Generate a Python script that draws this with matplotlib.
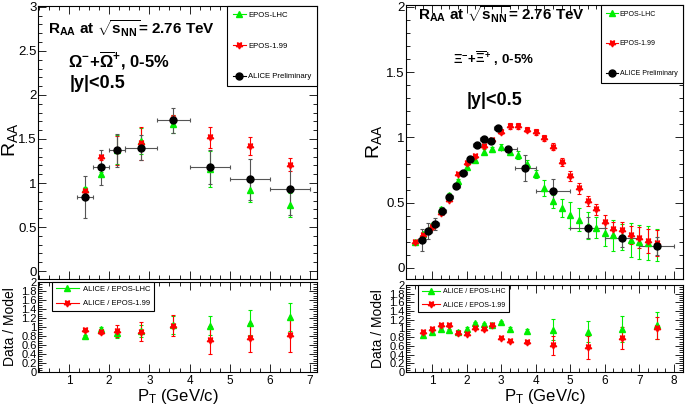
import numpy as np
import matplotlib
matplotlib.use('Agg')
import matplotlib.pyplot as plt
from matplotlib.lines import Line2D
from matplotlib.ticker import MultipleLocator, FormatStrFormatter

plt.rcParams['font.family'] = ['Liberation Sans', 'DejaVu Sans']
plt.rcParams['mathtext.fontset'] = 'custom'
plt.rcParams['mathtext.rm'] = 'Liberation Sans'
plt.rcParams['mathtext.bf'] = 'Liberation Sans:bold'
plt.rcParams['mathtext.it'] = 'Liberation Sans:italic'

# ---- Omega (left) ----
om_x = [1.4, 1.8, 2.2, 2.8, 3.6, 4.5, 5.5, 6.5]
om_xlo = [1.2, 1.6, 2.0, 2.4, 3.2, 4.0, 5.0, 6.0]
om_xhi = [1.6, 2.0, 2.4, 3.2, 4.0, 5.0, 6.0, 7.0]
om_alice = [0.84, 1.18, 1.37, 1.40, 1.71, 1.18, 1.04, 0.93]
om_alice_err = [0.24, 0.20, 0.19, 0.14, 0.14, 0.19, 0.23, 0.29]
om_lhc = [0.93, 1.10, 1.38, 1.48, 1.67, 1.16, 0.92, 0.75]
om_lhc_err = [0.03, 0.03, 0.16, 0.15, 0.10, 0.20, 0.13, 0.14]
om_199 = [0.91, 1.29, 1.37, 1.45, 1.73, 1.52, 1.42, 1.21]
om_199_err = [0.03, 0.03, 0.16, 0.19, 0.04, 0.12, 0.10, 0.07]

om_r_lhc = [0.80, 0.955, 0.86, 0.91, 1.045, 1.03, 1.10, 1.23]
om_r_lhc_err = [0.03, 0.04, 0.10, 0.13, 0.19, 0.21, 0.28, 0.31]
om_r_199 = [0.93, 0.88, 0.91, 0.90, 1.03, 0.71, 0.76, 0.82]
om_r_199_err = [0.04, 0.04, 0.14, 0.22, 0.23, 0.32, 0.32, 0.37]

# ---- Xi (right) ----
xi_x = [0.7, 0.9, 1.1, 1.3, 1.5, 1.7, 1.9, 2.1, 2.3, 2.5, 2.7, 2.9,
        3.2, 3.7, 4.5, 5.5, 6.5, 7.5]
xi_xlo = [0.6, 0.8, 1.0, 1.2, 1.4, 1.6, 1.8, 2.0, 2.2, 2.4, 2.6, 2.8,
          3.0, 3.4, 4.0, 5.0, 6.0, 7.0]
xi_xhi = [0.8, 1.0, 1.2, 1.4, 1.6, 1.8, 2.0, 2.2, 2.4, 2.6, 2.8, 3.0,
          3.45, 4.0, 5.0, 6.0, 7.0, 8.0]
xi_alice = [0.215, 0.284, 0.336, 0.435, 0.545, 0.63, 0.725, 0.835, 0.94,
            0.985, 0.975, 1.07, 0.91, 0.763, 0.59, 0.307, 0.233, 0.17]
xi_alice_err = [0.085, 0.06, 0.045, 0.03, 0.02, 0.02, 0.02, 0.02, 0.02,
                0.02, 0.02, 0.02, 0.02, 0.10, 0.09, 0.08, 0.07, 0.07]

xi_mx = [0.5, 0.75, 1.0, 1.25, 1.5, 1.75, 2.0, 2.25, 2.5, 2.75, 3.0, 3.25,
         3.5, 3.75, 4.0, 4.25, 4.5, 4.75, 5.0, 5.25, 5.5, 5.75, 6.0, 6.25,
         6.5, 6.75, 7.0, 7.25, 7.5]
xi_lhc = [0.20, 0.26, 0.33, 0.45, 0.56, 0.665, 0.775, 0.827, 0.89, 0.91,
          0.93, 0.886, 0.866, 0.796, 0.72, 0.61, 0.51, 0.46, 0.406, 0.37,
          0.325, 0.307, 0.27, 0.25, 0.24, 0.215, 0.20, 0.19, 0.175]
xi_lhc_err = [0.01, 0.01, 0.01, 0.015, 0.015, 0.015, 0.015, 0.015, 0.02,
              0.02, 0.02, 0.02, 0.03, 0.03, 0.03, 0.06, 0.05, 0.07, 0.10,
              0.09, 0.10, 0.08, 0.10, 0.12, 0.10, 0.13, 0.13, 0.13, 0.12]
xi_199 = [0.195, 0.25, 0.31, 0.42, 0.52, 0.72, 0.807, 0.86, 0.937, 0.98,
          1.045, 1.088, 1.088, 1.058, 1.04, 0.994, 0.93, 0.814, 0.704, 0.61,
          0.512, 0.448, 0.353, 0.302, 0.29, 0.25, 0.23, 0.205, 0.19]
xi_199_err = [0.01, 0.01, 0.01, 0.01, 0.01, 0.01, 0.015, 0.015, 0.015,
              0.015, 0.02, 0.02, 0.02, 0.02, 0.025, 0.025, 0.03, 0.03, 0.035,
              0.04, 0.04, 0.045, 0.05, 0.05, 0.06, 0.07, 0.08, 0.09, 0.10]

xi_rx = [0.75, 1.0, 1.25, 1.5, 1.75, 2.0, 2.25, 2.5, 2.75, 3.0, 3.25, 3.75,
         4.5, 5.5, 6.5, 7.5]
xi_r_lhc = [0.855, 0.91, 0.98, 0.97, 0.925, 1.0, 1.12, 1.10, 1.09, 1.14,
            1.0, 0.95, 0.97, 0.93, 0.985, 1.08]
xi_r_lhc_err = [0.04, 0.04, 0.03, 0.03, 0.03, 0.03, 0.03, 0.03, 0.03, 0.03,
                0.03, 0.04, 0.24, 0.24, 0.30, 0.31]
xi_r_199 = [0.92, 1.0, 1.07, 1.07, 0.89, 0.87, 1.02, 1.0, 1.07, 0.79, 0.72,
            0.68, 0.61, 0.565, 0.78, 1.02]
xi_r_199_err = [0.04, 0.04, 0.03, 0.03, 0.03, 0.03, 0.03, 0.03, 0.03, 0.03,
                0.03, 0.04, 0.22, 0.27, 0.26, 0.25]

GREEN = '#00ee00'
RED = '#ff0000'
STAR = (5, 1, 36)
MS = 5

W, H = 685, 405
fig = plt.figure(figsize=(6.85, 4.05), dpi=100)


def px_axes(x0, y0, x1, y1):
    return fig.add_axes([x0 / W, 1 - y1 / H, (x1 - x0) / W, (y1 - y0) / H])


def style(ax, ymaj, ymin, labelsize, xlabels):
    ax.xaxis.set_major_locator(MultipleLocator(1))
    ax.xaxis.set_minor_locator(MultipleLocator(0.25))
    ax.yaxis.set_major_locator(MultipleLocator(ymaj))
    ax.yaxis.set_minor_locator(MultipleLocator(ymin))
    ax.xaxis.set_major_formatter(FormatStrFormatter('%g'))
    ax.yaxis.set_major_formatter(FormatStrFormatter('%g'))
    ax.tick_params(which='both', direction='in', top=True, right=True,
                   labelsize=labelsize, pad=2)
    ax.tick_params(which='major', length=6, width=0.6)
    ax.tick_params(which='minor', length=3, width=0.6)
    if not xlabels:
        ax.tick_params(labelbottom=False)
    for s in ax.spines.values():
        s.set_linewidth(0.8)


def data_pts(ax, x, y, yerr, color, marker, ms, xlo=None, xhi=None, ecolor=None):
    xerr = None
    if xlo is not None:
        xerr = [np.array(x) - np.array(xlo), np.array(xhi) - np.array(x)]
    ax.errorbar(x, y, yerr=yerr, xerr=xerr, marker=marker, linestyle='none',
                color=color, ms=ms, ecolor=ecolor or color, elinewidth=0.8,
                capsize=1.2, capthick=0.8, mec=color, zorder=3)


def model_legend(ax, fs, ls, hl, bp):
    h = [Line2D([], [], color=GREEN, marker='^', ms=MS, lw=0.8),
         Line2D([], [], color=RED, marker=STAR, ms=MS, lw=0.8),
         Line2D([], [], color='black', marker='o', ms=MS, lw=0.8)]
    lg = ax.legend(h, ['EPOS-LHC', 'EPOS-1.99', 'ALICE Preliminary'],
                   loc='upper right', bbox_to_anchor=(1, 1), borderaxespad=0,
                   fontsize=fs, labelspacing=ls, handlelength=hl,
                   handletextpad=0.3, borderpad=bp, fancybox=False,
                   framealpha=1)
    lg.get_frame().set_edgecolor('black')
    lg.get_frame().set_linewidth(0.8)
    lg.set_zorder(10)


def ratio_legend(ax, fs, bbox, hl):
    h = [Line2D([], [], color=GREEN, marker='^', ms=MS, lw=0.8),
         Line2D([], [], color=RED, marker=STAR, ms=MS, lw=0.8)]
    lg = ax.legend(h, ['ALICE / EPOS-LHC', 'ALICE / EPOS-1.99'],
                   loc='upper left', bbox_to_anchor=bbox, borderaxespad=0,
                   fontsize=fs, labelspacing=0.9, handlelength=hl,
                   handletextpad=0.5, borderpad=0.5, fancybox=False,
                   framealpha=1)
    lg.get_frame().set_edgecolor('black')
    lg.get_frame().set_linewidth(0.8)


TITLE = r'$\mathbf{R_{AA}}$ at $\sqrt{\mathbf{s_{NN}}}$= 2.76 TeV'

# ---------- left top ----------
ax1 = px_axes(38, 6, 317, 279)
data_pts(ax1, om_x, om_lhc, om_lhc_err, GREEN, '^', MS)
data_pts(ax1, om_x, om_199, om_199_err, RED, STAR, MS)
data_pts(ax1, om_x, om_alice, om_alice_err, 'black', 'o', MS, om_xlo, om_xhi, ecolor='#555555')
ax1.set_xlim(0.23, 7.17)
ax1.set_ylim(-0.09, 3.01)
style(ax1, 0.5, 0.1, 9.5, False)
ax1.tick_params(axis='y', pad=1)
ax1.set_ylabel(r'$\mathrm{R_{AA}}$', fontsize=14)
ax1.yaxis.set_label_coords(-0.064, 0.51)
ax1.text(0.036, 0.918, TITLE, transform=ax1.transAxes, fontsize=11,
         fontweight='bold', va='center')
ax1.text(0.108, 0.80, r'$\mathbf{\Omega^{-}\!+\!\overline{\Omega}^{+}}$, 0-5%',
         transform=ax1.transAxes, fontsize=12, fontweight='bold', va='center')
ax1.text(0.115, 0.715, '|y|<0.5', transform=ax1.transAxes, fontsize=13,
         fontweight='bold', va='center')
model_legend(ax1, 5.6, 3.0, 1.7, 0.7)

# ---------- left bottom ----------
ax2 = px_axes(38, 282, 317, 372)
data_pts(ax2, om_x, om_r_lhc, om_r_lhc_err, GREEN, '^', MS)
data_pts(ax2, om_x, om_r_199, om_r_199_err, RED, STAR, MS)
ax2.set_xlim(0.23, 7.17)
ax2.set_ylim(0, 2.0)
style(ax2, 0.2, 0.05, 8.5, True)
ax2.tick_params(axis='y', labelsize=8, pad=1)
ax2.set_ylabel('Data / Model', fontsize=10)
ax2.yaxis.set_label_coords(-0.075, 0.5)
ax2.set_xlabel(r'$\mathrm{P_{T}}$ (GeV/c)', fontsize=12, labelpad=0)
ratio_legend(ax2, 5.5, (0.05, 1.0), 3.0)

# ---------- right top ----------
ax3 = px_axes(406, 5, 683, 279)
data_pts(ax3, xi_mx, xi_lhc, xi_lhc_err, GREEN, '^', MS)
data_pts(ax3, xi_mx, xi_199, xi_199_err, RED, STAR, MS)
data_pts(ax3, xi_x, xi_alice, xi_alice_err, 'black', 'o', MS, xi_xlo, xi_xhi, ecolor='#555555')
ax3.set_xlim(0.25, 8.26)
ax3.set_ylim(-0.085, 2.015)
style(ax3, 0.5, 0.1, 9.5, False)
ax3.tick_params(axis='y', pad=1)
ax3.set_ylabel(r'$\mathrm{R_{AA}}$', fontsize=14)
ax3.yaxis.set_label_coords(-0.078, 0.50)
ax3.text(0.043, 0.964, TITLE, transform=ax3.transAxes, fontsize=11,
         fontweight='bold', va='center')
ax3.text(0.17, 0.803, r'$\mathbf{\Xi^{-}\!+\!\overline{\Xi}^{+}}$ , 0-5%',
         transform=ax3.transAxes, fontsize=9.5, fontweight='bold', va='center')
ax3.text(0.22, 0.652, '|y|<0.5', transform=ax3.transAxes, fontsize=13,
         fontweight='bold', va='center')
model_legend(ax3, 5.0, 3.3, 1.6, 0.8)

# ---------- right bottom ----------
ax4 = px_axes(406, 285, 683, 372)
data_pts(ax4, xi_rx, xi_r_lhc, xi_r_lhc_err, GREEN, '^', MS)
data_pts(ax4, xi_rx, xi_r_199, xi_r_199_err, RED, STAR, MS)
ax4.set_xlim(0.25, 8.26)
ax4.set_ylim(0, 2.0)
style(ax4, 0.2, 0.05, 8.5, True)
ax4.tick_params(axis='y', labelsize=8, pad=1)
ax4.set_ylabel('Data / Model', fontsize=10)
ax4.yaxis.set_label_coords(-0.076, 0.5)
ax4.set_xlabel(r'$\mathrm{P_{T}}$ (GeV/c)', fontsize=12, labelpad=0)
ratio_legend(ax4, 5, (0.045, 1.0), 2.6)

plt.savefig('out.png', dpi=100)
